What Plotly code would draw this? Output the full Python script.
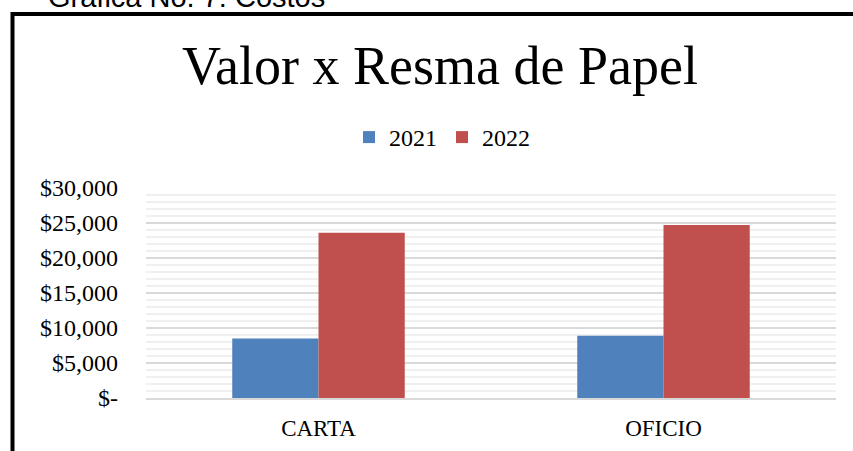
import plotly.graph_objects as go

categories = ["CARTA", "OFICIO"]
series_names = ["2021", "2022"]
values_2021 = [8500, 8900]
values_2022 = [23600, 24700]
y_tickvals = [0, 5000, 10000, 15000, 20000, 25000, 30000]
y_ticktext = ["$-", "$5,000", "$10,000", "$15,000", "$20,000", "$25,000", "$30,000"]
chart_title = "Valor x Resma de Papel"
caption = "Gráfica No. 7: Costos"

W, H = 853, 451
L, R, T, B = 146, 836, 188, 398

def px_x(px):
    return (px - L) / (R - L)

def px_y(py):
    return (B - py) / (B - T)

SERIF = "Liberation Serif, Times New Roman, serif"

fig = go.Figure()
fig.add_trace(go.Bar(name=series_names[0], x=categories, y=values_2021,
                     marker=dict(color="#4F81BD", line=dict(width=0))))
fig.add_trace(go.Bar(name=series_names[1], x=categories, y=values_2022,
                     marker=dict(color="#C0504D", line=dict(width=0))))

fig.update_layout(
    width=W, height=H,
    margin=dict(l=L, r=W - R, t=T, b=H - B, pad=0, autoexpand=False),
    paper_bgcolor="white", plot_bgcolor="white",
    barmode="group", bargap=0.5, bargroupgap=0,
    font=dict(family=SERIF, color="#000000", size=23),
    title=dict(text=chart_title, xref="paper", x=px_x(440), xanchor="center",
               yref="container", y=1 - 65.5 / H, yanchor="middle",
               font=dict(family=SERIF, size=54, color="#000000")),
    legend=dict(orientation="h", xref="paper", x=px_x(442), xanchor="center",
                yref="paper", y=px_y(137.5), yanchor="middle",
                font=dict(family=SERIF, size=24, color="#000000"),
                itemwidth=30, bgcolor="rgba(0,0,0,0)"),
    showlegend=True,
)

fig.update_yaxes(range=[0, 30000], tickvals=y_tickvals, ticktext=y_ticktext,
                 showgrid=True, gridcolor="#D9D9D9", gridwidth=1.5,
                 minor=dict(dtick=1000, showgrid=True, gridcolor="#F0F0F0", gridwidth=1.5),
                 zeroline=False, showline=False, ticks="",
                 ticklabelstandoff=27, automargin=False,
                 tickfont=dict(family=SERIF, size=24, color="#000000"),
                 fixedrange=True)
fig.update_xaxes(showgrid=False, showline=True, linecolor="#D9D9D9", linewidth=1.5,
                 ticks="", ticklabelstandoff=9, automargin=False,
                 tickfont=dict(family=SERIF, size=23, color="#000000"),
                 fixedrange=True)

# outer chart border (extends beyond the visible page on right and bottom)
fig.add_shape(type="rect", xref="paper", yref="paper",
              x0=px_x(12.5), x1=px_x(880), y0=px_y(480), y1=px_y(14),
              line=dict(color="black", width=4), fillcolor="rgba(0,0,0,0)", layer="above")

# cut-off caption above the chart
fig.add_annotation(text=caption, xref="paper", yref="paper",
                   x=px_x(46), y=px_y(-3), xanchor="left", yanchor="middle",
                   showarrow=False,
                   font=dict(family="Liberation Sans, Arial, sans-serif", size=29, color="#000000"))

fig.write_html("out.html", config={"displayModeBar": False},
               post_script="document.body.style.margin='0';document.body.style.overflow='hidden';")
